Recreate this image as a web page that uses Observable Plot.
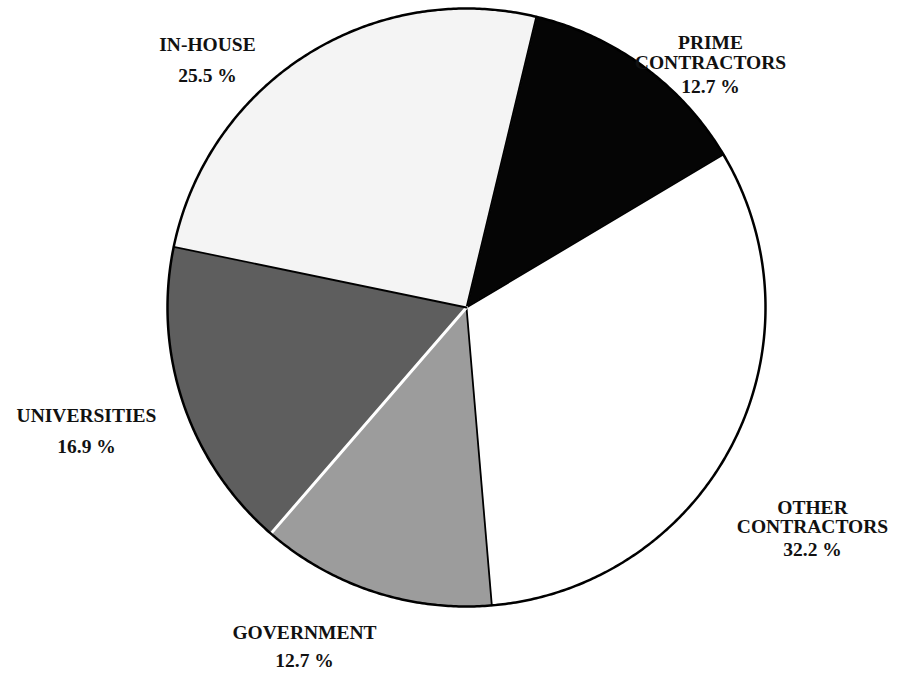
<!DOCTYPE html>
<html><head><meta charset="utf-8">
<script src="https://cdn.jsdelivr.net/npm/d3@7"></script>
<script src="https://cdn.jsdelivr.net/npm/@observablehq/plot@0.6"></script>
<style>html,body{margin:0;padding:0;background:#fff;overflow:hidden}</style>
</head><body><div id="chart"></div>
<script>
// ---- data ----
const categories = ["PRIME\nCONTRACTORS", "OTHER\nCONTRACTORS", "GOVERNMENT", "UNIVERSITIES", "IN-HOUSE"];
const shares = [12.7, 32.2, 12.7, 16.9, 25.5];
const percentLabels = ["12.7 %", "32.2 %", "12.7 %", "16.9 %", "25.5 %"];

// ---- styling / layout ----
const sliceColors = ["#050505", "#ffffff", "#9c9c9c", "#5e5e5e", "#f4f4f4"];
const startDeg = 13.5;
const W = 900, H = 673, CX = 466, CY = 307, R = 299;
// label anchors in pixels: [x, first name line y, name line step, percent y]
const labelLayout = [
  [710, 42, 20, 86],
  [812, 507, 19, 549],
  [304, 632, 0, 660],
  [86, 415, 0, 446],
  [207, 44, 0, 75]
];

const px = v => (v - CX) / R;
const py = v => (CY - v) / R;

const a0 = startDeg * Math.PI / 180;
const arcs = d3.pie().sort(null).startAngle(a0).endAngle(a0 + 2 * Math.PI)(shares);

const slicePts = arcs.map((a, i) => {
  const pts = [{name: categories[i], x: 0, y: 0}];
  const n = Math.max(4, Math.ceil((a.endAngle - a.startAngle) / 0.004));
  for (let k = 0; k <= n; k++) {
    const t = a.startAngle + (a.endAngle - a.startAngle) * k / n;
    pts.push({name: categories[i], x: Math.sin(t), y: Math.cos(t)});
  }
  pts.push({name: categories[i], x: 0, y: 0});
  return pts;
});

const circlePts = d3.range(0, 721).map(k => {
  const t = k / 720 * 2 * Math.PI;
  return {x: Math.sin(t), y: Math.cos(t)};
});

const edges = arcs.map((a, i) => ({
  i,
  pts: [{x: 0, y: 0}, {x: Math.sin(a.startAngle), y: Math.cos(a.startAngle)}]
}));

const textRows = [];
categories.forEach((c, i) => {
  const [lx, ly, step, pyv] = labelLayout[i];
  c.split("\n").forEach((line, j) => textRows.push({t: line, x: px(lx), y: py(ly + j * step)}));
  textRows.push({t: percentLabels[i], x: px(lx), y: py(pyv)});
});

const marks = [];
slicePts.forEach((pts, i) => {
  marks.push(Plot.line(pts, {x: "x", y: "y", fill: sliceColors[i], stroke: sliceColors[i], strokeWidth: 0.5, curve: "linear"}));
});
edges.forEach(e => {
  const white = categories[e.i] === "UNIVERSITIES";
  marks.push(Plot.line(e.pts, {x: "x", y: "y", stroke: white ? "#ffffff" : "#000000", strokeWidth: white ? 3 : 1.8}));
});
marks.push(Plot.line(circlePts, {x: "x", y: "y", stroke: "#000", strokeWidth: 2.5}));
marks.push(Plot.text(textRows, {
  x: "x", y: "y", text: "t", textAnchor: "middle", lineAnchor: "middle",
  fontFamily: "'Liberation Serif', 'Times New Roman', serif", fontWeight: "bold", fontSize: 19.5, fill: "#111"
}));

const chart = Plot.plot({
  width: W, height: H,
  marginTop: 0, marginRight: 0, marginBottom: 0, marginLeft: 0,
  x: {domain: [px(0), px(W)], axis: null},
  y: {domain: [py(H), py(0)], axis: null},
  style: {background: "#fff"},
  marks
});
document.getElementById("chart").appendChild(chart);
</script>
</body></html>
